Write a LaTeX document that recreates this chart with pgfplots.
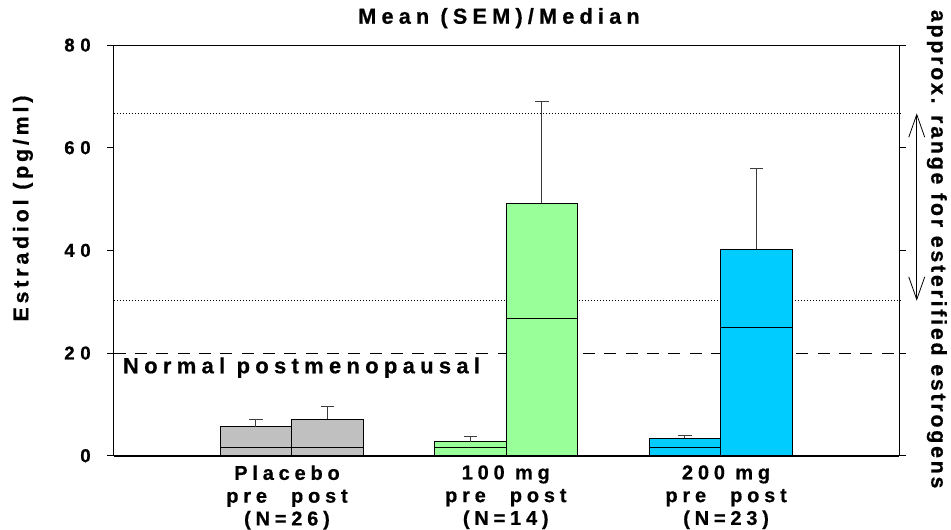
\documentclass[border=0pt]{standalone}
\usepackage{fontspec}
\setmainfont{Liberation Sans}
\newfontfamily\lsf[LetterSpace=24, FakeBold=0.6]{Liberation Sans}
\newfontfamily\lsft[LetterSpace=30, FakeBold=0.6]{Liberation Sans}
\newfontfamily\lsfy[LetterSpace=18, FakeBold=0.6]{Liberation Sans}
\newfontfamily\lsfr[LetterSpace=13, FakeBold=0.6]{Liberation Sans}
\usepackage{pgfplots}
\pgfplotsset{compat=1.18}
\usepackage{pgfplotstable}
\usetikzlibrary{arrows.meta}

\definecolor{placebogray}{RGB}{192,192,192}
\definecolor{lowgreen}{RGB}{153,255,153}
\definecolor{highblue}{RGB}{0,204,255}
\definecolor{errgray}{RGB}{60,60,60}

% x: group centre at 1, 2, 3; pre bar left of it, post bar right of it
\pgfplotstableread{
x       mean  sem   median
0.8333  5.65  1.45  1.56
1.1667  7.15  2.40  1.56
}\placebo
\pgfplotstableread{
x       mean  sem    median
1.8333  2.73  0.97   1.56
2.1667  49.2  19.8   26.8
}\lowdose
\pgfplotstableread{
x       mean  sem    median
2.8333  3.39  0.60   1.60
3.1667  40.2  15.8   24.95
}\highdose

\pgfplotsset{
  meanbar/.style={ybar, bar width=0.3333, bar shift=0pt, draw=black, line width=0.75pt,
    fill=#1,
    error bars/.cd, y dir=plus, y explicit,
    error bar style={errgray, line width=0.75pt},
    error mark options={rotate=90, errgray, mark size=5pt, line width=0.75pt}},
  medianbar/.style={ybar, bar width=0.3333, bar shift=0pt, draw=black, line width=0.75pt, fill=none},
}
\tikzset{
  grouplabel/.style={anchor=north, align=center, inner sep=0pt, yshift=-7pt,
    font=\lsf\bfseries\fontsize{15}{17.1}\selectfont},
}

\begin{document}
\begin{tikzpicture}
\begin{axis}[
  at={(0pt,0pt)}, anchor=south west,
  scale only axis, width=589.3pt, height=308pt,
  xmin=0.1697, xmax=3.8326, ymin=0, ymax=80,
  axis line style={line width=0.75pt},
  clip=false,
  ytick={0,20,40,60,80},
  xtick=\empty,
  tick align=outside, major tick length=5pt,
  ytick style={line width=0.75pt, black},
  /pgf/number format/assume math mode=true,
  yticklabel style={anchor=east, inner sep=0pt, xshift=-12pt,
    font=\lsft\bfseries\fontsize{14}{16}\selectfont},
  title={Mean (SEM)/Median},
  title style={at={(rel axis cs:0.4905,1.0325)}, anchor=base, inner sep=0pt,
    font=\lsf\bfseries\fontsize{16.25}{18}\selectfont},
  ylabel={Estradiol (pg/ml)},
  ylabel style={at={(rel axis cs:-0.1154,0.602)}, anchor=center,
    font=\lsfy\bfseries\fontsize{16}{18}\selectfont},
]
% reference levels
\draw[line width=0.75pt, dash pattern=on 0.75pt off 1.5pt] (axis cs:0.1697,66.7) -- (axis cs:3.842,66.7);
\draw[line width=0.75pt, dash pattern=on 0.75pt off 1.5pt] (axis cs:0.1697,30.2) -- (axis cs:3.842,30.2);
\draw[line width=0.75pt, dash pattern=on 9pt off 7pt] (axis cs:0.1697,20) -- (axis cs:3.842,20);

\addplot[meanbar=placebogray] table[x=x, y=mean, y error=sem] {\placebo};
\addplot[medianbar] table[x=x, y=median] {\placebo};
\addplot[meanbar=lowgreen] table[x=x, y=mean, y error=sem] {\lowdose};
\addplot[medianbar] table[x=x, y=median] {\lowdose};
\addplot[meanbar=highblue] table[x=x, y=mean, y error=sem] {\highdose};
\addplot[medianbar] table[x=x, y=median] {\highdose};

\draw[line width=1.5pt] (rel axis cs:0,0) -- (rel axis cs:1,0);

% group labels under the bars
\node[grouplabel] at (axis cs:0.978,0) {Placebo\\pre\hspace{1.2em}post\\(N=26)};
\node[grouplabel] at (axis cs:1.998,0) {100 mg\\pre\hspace{1.2em}post\\(N=14)};
\node[grouplabel] at (axis cs:3.025,0) {200 mg\\pre\hspace{1.2em}post\\(N=23)};

\node[anchor=base west, inner sep=0pt, font=\lsf\bfseries\fontsize{16.5}{19}\selectfont]
  at (axis cs:0.2124,16.06) {Normal postmenopausal};

\draw[line width=0.6pt, {Straight Barb[length=17pt,width=12pt]}-{Straight Barb[length=17pt,width=12pt]}]
  (axis cs:3.9138,30.2) -- (axis cs:3.9138,66.7);
\node[rotate=-90, anchor=base west, inner sep=0pt, font=\lsfr\bfseries\fontsize{16}{18}\selectfont]
  at (axis cs:3.982,86.9) {approx. range for esterified estrogens};
\end{axis}
\pgfresetboundingbox
\path[use as bounding box] (-85.2pt,-54.98pt) rectangle (628.05pt,341.8pt);
\end{tikzpicture}
\end{document}
